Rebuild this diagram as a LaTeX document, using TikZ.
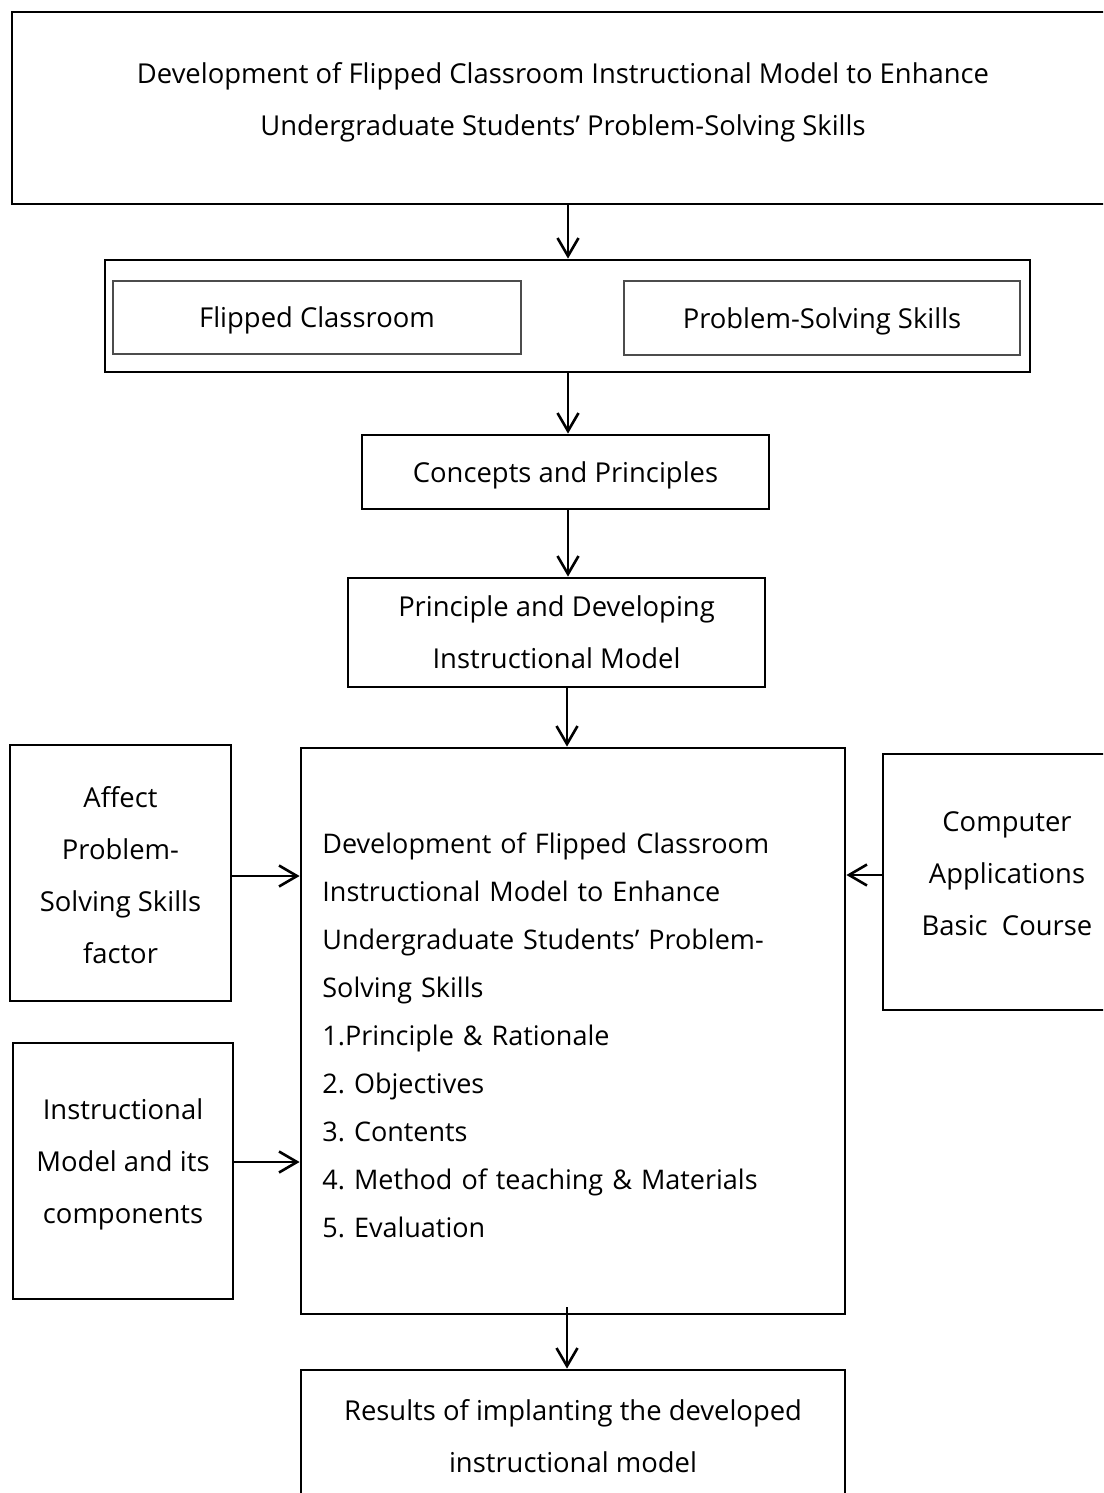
\documentclass[tikz,border=0pt]{standalone}
\usepackage{fontspec}
\setmainfont{Open Sans}
\usetikzlibrary{arrows.meta}
\newcommand{\fsA}{\fontsize{13.7}{26}\selectfont\frenchspacing}
\newcommand{\fsB}{\fontsize{13.5}{24}\selectfont\frenchspacing}
\begin{document}
\begin{tikzpicture}[x=0.5pt,y=-0.5pt,
  box/.style={draw, line width=1.4pt, rectangle, inner sep=0pt, align=center, font=\fsA},
  graybox/.style={box, draw=black!70, line width=1.3pt},
  low/.style={text depth=0pt},
  txt/.style={inner sep=0pt, align=center, font=\fsA},
  arr/.style={line width=1.3pt, -{Straight Barb[length=9pt,width=10.5pt,line width=1.3pt]}}]
\useasboundingbox (0,0) rectangle (1103,1493);
\clip (0,0) rectangle (1103,1493);
\fill[white] (0,0) rectangle (1103,1493);
\coordinate (axis) at (568,0);
\coordinate (axisb) at (567,0);
% top box
\node[box, minimum width=551pt, minimum height=96pt] (top) at (563,108) {};
\node[txt] (toptxt) at (563,102) {Development of Flipped Classroom Instructional Model to Enhance\\Undergraduate Students’ Problem-Solving Skills};
% second box
\node[box, minimum width=462.5pt, minimum height=56pt] (two) at (567.5,316) {};
\node[graybox, low, minimum width=204pt, minimum height=36.5pt] (fc) at (317,317.5) {Flipped Classroom};
\node[graybox, low, minimum width=198pt, minimum height=37pt] (pss) at (822,318) {Problem-Solving Skills};
% concepts
\node[box, low, minimum width=203.5pt, minimum height=37pt] (cp) at (565.5,472) {Concepts and Principles};
% principle
\node[box, low, minimum width=208.5pt, minimum height=54.5pt] (pd) at (556.5,632.5) {Principle and Developing\\Instructional Model};
% main
\node[box, minimum width=272pt, minimum height=283pt] (main) at (573,1031) {};
\node[inner sep=0pt, text width=251pt, align=left, font=\fsB, anchor=west] (maintxt) at (322,1035) {Development of Flipped Classroom\\Instructional Model to Enhance\\Undergraduate Students’ Problem-\\Solving Skills\\1.Principle \& Rationale\\2. Objectives\\3. Contents\\4. Method of teaching \& Materials\\5. Evaluation};
% left boxes
\node[box, minimum width=110.5pt, minimum height=128pt] (lf) at (120.5,873) {};
\node[txt] (lftxt) at (120.5,875) {Affect\\Problem-\\Solving Skills\\factor};
\node[box, minimum width=110pt, minimum height=128pt] (lm) at (123,1171) {};
\node[txt] (lmtxt) at (123,1164) {Instructional\\Model and its\\components};
% right box
\node[box, minimum width=124pt, minimum height=128pt] (rc) at (1007,882) {};
\node[txt] (rctxt) at (1007,874) {Computer\\Applications\\Basic~~Course};
% bottom box
\node[box, minimum width=272pt, minimum height=80pt] (res) at (573,1450) {};
\node[txt] (restxt) at (573,1436) {Results of implanting the developed\\instructional model};
% arrows
\draw[arr] (top.south -| axis) -- (two.north -| axis);
\draw[arr] (two.south -| axis) -- (cp.north -| axis);
\draw[arr] (cp.south -| axis) -- (pd.north -| axis);
\draw[arr] (pd.south -| axisb) -- (main.north -| axisb);
\draw[arr] ([yshift=4pt]main.south -| axisb) -- (res.north -| axisb);
\coordinate (ya) at (0,876);
\coordinate (yb) at (0,1162);
\coordinate (yc) at (0,875);
\draw[arr] (lf.east |- ya) -- (main.west |- ya);
\draw[arr] (lm.east |- yb) -- (main.west |- yb);
\draw[arr] (rc.west |- yc) -- (main.east |- yc);
\end{tikzpicture}
\end{document}
